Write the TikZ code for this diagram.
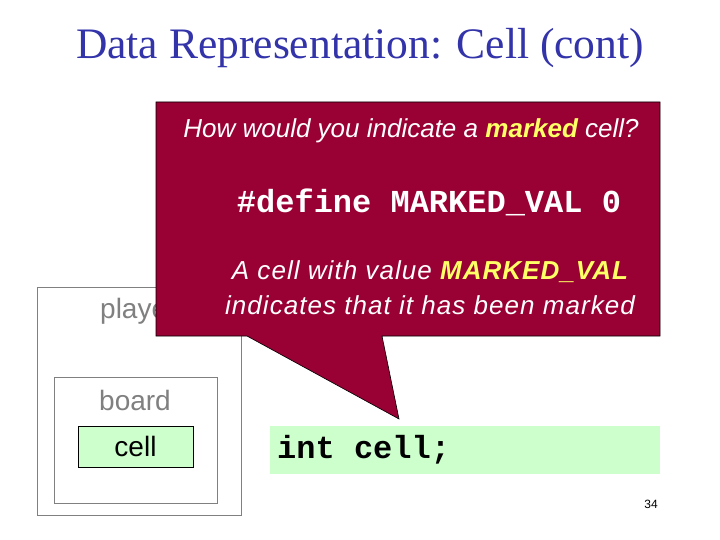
\documentclass[tikz,border=0pt]{standalone}
\usepackage{fontspec}
\setmainfont{Liberation Serif}
\setsansfont{Liberation Sans}
\setmonofont{Liberation Mono}
\definecolor{titleblue}{HTML}{3333AA}
\definecolor{crimson}{HTML}{990033}
\definecolor{hiyellow}{HTML}{FFFF66}
\definecolor{lightgreen}{HTML}{CCFFCC}
\definecolor{boxgray}{HTML}{808080}
\tikzset{
  graybox/.style={draw=boxgray, line width=0.8pt},
  graytxt/.style={text=boxgray, font=\fontsize{28}{32}\sffamily, inner sep=0pt},
  calltxt/.style={text=white, font=\fontsize{26}{30}\sffamily\itshape, inner sep=0pt},
  callwide/.style={calltxt, font=\fontsize{26}{30}\sffamily\itshape\addfontfeature{LetterSpace=4}},
}
\begin{document}
\begin{tikzpicture}[x=1pt,y=-1pt]
\useasboundingbox (0,0) rectangle (720,540);
\fill[white] (0,0) rectangle (720,540);
% title
\node[text=titleblue, font=\fontsize{43.5}{48}\selectfont, inner sep=0pt] (title) at (360,48) {Data Representation: Cell (cont)};
% player / board / cell boxes
\draw[graybox] (37,287) rectangle (241,515);
\node[graytxt, anchor=west] (player) at (100,311) {player};
\draw[graybox] (54,377) rectangle (217,503);
\node[graytxt] (board) at (135,400) {board};
\node[draw=black, fill=lightgreen, line width=0.8pt, minimum width=115pt, minimum height=41pt, inner sep=0pt, font=\fontsize{28}{32}\sffamily] (cell) at (135.5,446.5) {cell};
% code box
\node[fill=lightgreen, minimum width=390pt, minimum height=48pt, inner sep=0pt] (code) at (465,450) {};
\node[anchor=west, inner sep=0pt, font=\fontsize{32}{36}\ttfamily\bfseries] (codetxt) at (277,450) {int cell;};
% callout
\coordinate (tip) at (399,419);
\draw[fill=crimson, draw=black, line width=0.6pt] (156,102) -- (660,102) -- (660,336) -- (382,336) -- (tip) -- (247,336) -- (156,336) -- cycle;
\node[calltxt] (q) at (411,131) {How would you indicate a {\bfseries\color{hiyellow}marked} cell?};
\node[text=white, inner sep=0pt, font=\fontsize{32}{36}\ttfamily\bfseries] (def) at (429,202) {\#define MARKED\_VAL 0};
\node[callwide] (a1) at (430,272) {A cell with value {\bfseries\color{hiyellow}MARKED\_VAL}};
\node[callwide] (a2) at (430,305) {indicates that it has been marked};
% page number
\node[font=\fontsize{12}{14}\sffamily, inner sep=0pt] (page) at (651,504) {34};
\end{tikzpicture}
\end{document}
